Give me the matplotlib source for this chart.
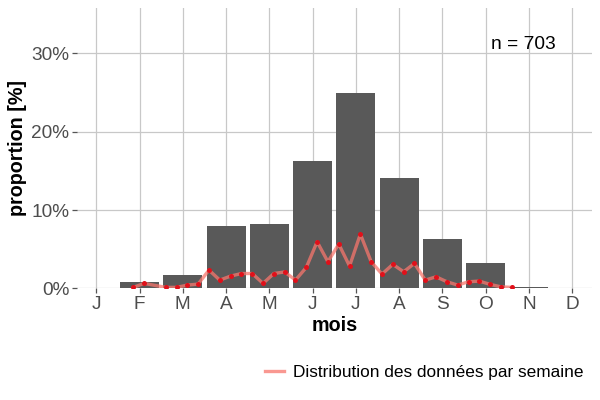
import numpy as np
import matplotlib.pyplot as plt

plt.rcParams['font.family'] = ['Liberation Sans', 'DejaVu Sans']

month_labels = ['J', 'F', 'M', 'A', 'M', 'J', 'J', 'A', 'S', 'O', 'N', 'D']
months = np.arange(1, 13)
month_pct = [0.0, 0.8, 1.7, 7.95, 8.2, 16.3, 24.95, 14.1, 6.25, 3.2, 0.2, 0.0]

# weekly distribution (week index, percent)
weeks = [4, 5, 7, 8, 9, 10, 11, 12, 13,
         14, 15, 16, 17, 18, 19, 20, 21, 22, 23, 24, 25, 26,
         27, 28, 29, 30, 31, 32, 33, 34, 35, 36, 37, 38, 39]
week_pct = [0.13, 0.64, 0.13, 0.13, 0.42, 0.55, 2.34, 1.06, 1.57,
            1.9, 1.9, 0.64, 1.9, 2.1, 1.06, 2.68, 5.95, 3.4, 5.66, 2.85, 6.93, 3.4,
            1.83, 3.07, 2.12, 3.19, 1.06, 1.48, 0.85, 0.42, 0.85, 0.93, 0.51, 0.2, 0.13]
n_obs = 703

week_x = 0.855 + np.array(weeks) / 4.0

fig = plt.figure(figsize=(6, 4), dpi=100)
ax = fig.add_axes([0.128, 0.279, 0.858, 0.701])

ax.bar(months, month_pct, width=0.9, color='#595959', zorder=2)
line, = ax.plot(week_x, week_pct, color='#F8766D', alpha=0.75, lw=2.4,
                zorder=3, label='Distribution des données par semaine')
ax.plot(week_x, week_pct, 'o', color='#E0101A', ms=3.6, mew=0, zorder=4)

ax.text(10.88, 31.1, 'n = {}'.format(n_obs), ha='center', va='center',
        fontsize=13.8, color='black')

ax.set_xlim(0.55, 12.45)
ax.set_ylim(0, 35.8)
ax.set_xticks(months)
ax.set_xticklabels(month_labels)
ax.set_yticks([0, 10, 20, 30])
ax.set_yticklabels(['0%', '10%', '20%', '30%'])

ax.grid(True, color='#C8C8C8', lw=0.9, zorder=0)
for s in ax.spines.values():
    s.set_visible(False)
ax.tick_params(axis='both', length=3.5, width=0.9, color='#555555',
               labelcolor='#4D4D4D', labelsize=13.7, pad=2)

ax.set_xlabel('mois', fontsize=14.2, fontweight='bold', labelpad=2)
ax.set_ylabel('proportion [%]', fontsize=14.2, fontweight='bold', labelpad=3)

fig.legend(handles=[line], loc='center right', bbox_to_anchor=(0.972, 0.07),
           frameon=False, fontsize=12.4, handlelength=1.1, handletextpad=0.5,
           borderaxespad=0, borderpad=0)

plt.savefig('out.png', dpi=100)
